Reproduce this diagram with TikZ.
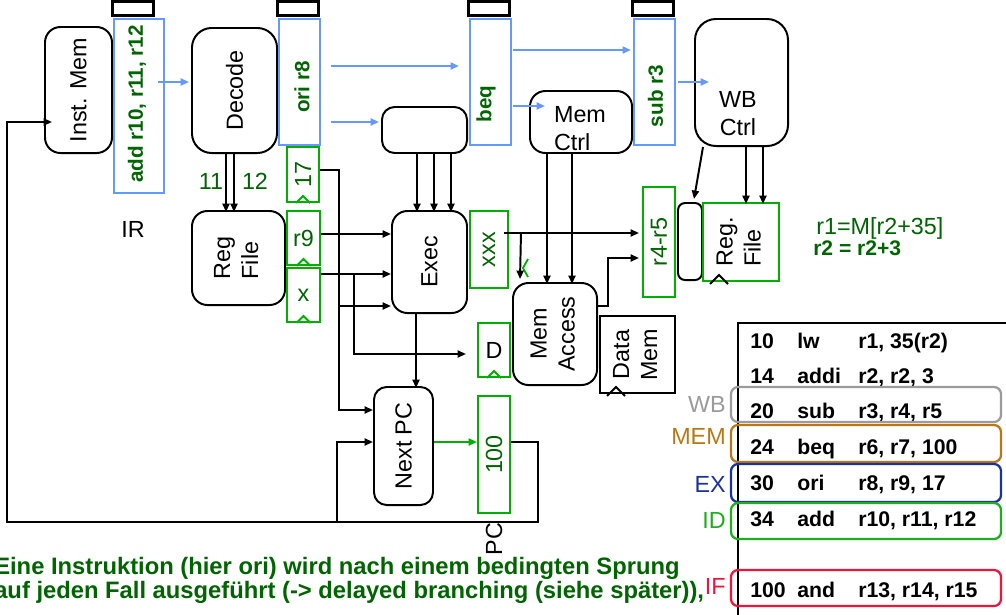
\documentclass[tikz,border=0pt]{standalone}
\usepackage{fontspec}
\setmainfont{Liberation Sans}
\usepackage{graphicx}
\usetikzlibrary{calc,arrows.meta}

\definecolor{pipeblue}{RGB}{102,153,255}
\definecolor{reggreen}{RGB}{0,175,0}
\definecolor{txtgreen}{RGB}{0,100,0}
\definecolor{wbgray}{RGB}{155,155,155}
\definecolor{membrown}{RGB}{185,120,20}
\definecolor{exblue}{RGB}{25,50,160}
\definecolor{idgreen}{RGB}{30,175,30}
\definecolor{ifred}{RGB}{240,20,60}

\newcommand{\figfont}{\fontsize{16.6}{20}\selectfont}
\newcommand{\regfont}{\fontsize{14.7}{18}\selectfont\bfseries}
\newcommand{\tabfont}{\fontsize{15.1}{18}\selectfont\bfseries}
\newcommand{\notefont}{\fontsize{16.9}{17}\selectfont\bfseries}
\newcommand{\vtxt}[1]{\rotatebox{90}{#1}}
\newcommand{\vtwo}[2][c]{\rotatebox{90}{\begin{tabular}{@{}#1@{}}#2\end{tabular}}}

\begin{document}
\begin{tikzpicture}[
    x=0.025cm, y=-0.025cm,
    blk/.style={draw=black, line width=1.4pt, rounded corners=11pt, fill=white, inner sep=0pt, font=\figfont},
    reg/.style={draw=reggreen, line width=1.4pt, fill=white, inner sep=0pt, font=\figfont, text=txtgreen},
    pipe/.style={draw=pipeblue, line width=1.5pt, inner sep=0pt},
    pipetxt/.style={font=\regfont, text=txtgreen, inner sep=0pt},
    latch/.style={draw=black, line width=2.2pt, fill=white},
    wire/.style={line width=1.4pt, draw=black, -{Triangle[length=6pt,width=5pt]}},
    bluewire/.style={line width=1.4pt, draw=pipeblue, -{Triangle[length=6pt,width=5pt]}},
    greenwire/.style={line width=1.4pt, draw=reggreen, -{Triangle[length=6pt,width=5pt]}},
    clk/.style={line width=1.3pt},
    lbl/.style={font=\figfont, inner sep=0pt},
    rowtxt/.style={font=\tabfont, anchor=base west, inner sep=0pt},
    stagebox/.style={line width=1.6pt, rounded corners=5pt}
]
    \useasboundingbox (0,0) rectangle (1006,614);

    % Fetch and decode
    \node[blk, minimum width=1.675cm, minimum height=3.15cm] (imem) at (78.5,90) {\vtxt{Inst. Mem}};
    \node[pipe, minimum width=1.25cm, minimum height=4.35cm] (ir) at (139,106) {};
    \node[blk, rounded corners=14pt, minimum width=2.125cm, minimum height=3.125cm] (decode) at (234.5,90.5) {\vtxt{Decode}\hspace{11.4pt}};
    \node[pipe, minimum width=1.025cm, minimum height=3.15cm] (idex) at (299.5,82) {};
    \node[reg, minimum width=0.8cm, minimum height=1.375cm] (r17) at (303,174.5) {\vtxt{17}};
    \node[blk, minimum width=2.325cm, minimum height=2.35cm] (regfile) at (238.5,258) {\vtwo[l]{Reg\\File}\hspace{9.5pt}};
    \node[reg, minimum width=0.825cm, minimum height=1.35cm] (r9) at (303.5,238) {r9};
    \node[reg, minimum width=0.825cm, minimum height=1.35cm] (rx) at (303.5,295) {x};

    % Execute
    \node[blk, rounded corners=9pt, minimum width=2.125cm, minimum height=1.15cm] (exctrl) at (424.5,130) {};
    \node[blk, minimum width=1.875cm, minimum height=2.55cm] (exec) at (429.5,262) {\vtxt{Exec}};
    \node[pipe, minimum width=1.025cm, minimum height=3.15cm] (exmem) at (490.5,82) {};
    \node[reg, minimum width=0.95cm, minimum height=1.925cm] (rxxx) at (489,249.5) {\vtxt{xxx}};
    \node[reg, text=black, minimum width=0.8cm, minimum height=1.35cm] (rd) at (494,350) {D};
    \node[blk, rounded corners=9pt, minimum width=1.475cm, minimum height=2.95cm] (nextpc) at (403.5,446) {\vtxt{Next PC}};
    \node[reg, minimum width=0.8cm, minimum height=2.925cm] (rpc) at (494,454.5) {\vtxt{100}};

    % Memory
    \node[blk, minimum width=2.55cm, minimum height=1.55cm] (memctrl) at (581,122) {};
    \node[blk, minimum width=2.1cm, minimum height=2.55cm] (memacc) at (555,334) {\vtwo{Mem\\Access}};
    \node[draw=black, line width=1.4pt, fill=white, inner sep=0pt, font=\figfont, minimum width=1.875cm, minimum height=1.925cm] (datamem) at (637.5,354.5) {\vtwo{Data\\Mem}};
    \node[reg, minimum width=0.8cm, minimum height=2.75cm] (rr45) at (659,242) {\vtxt{r4-r5}};
    \node[pipe, minimum width=1.025cm, minimum height=3.15cm] (memwb) at (654.5,82) {};

    % Write back
    \node[blk, rounded corners=15pt, minimum width=2.325cm, minimum height=3.175cm] (wbctrl) at (741.5,82.5) {};
    \node[blk, rounded corners=5pt, minimum width=0.6cm, minimum height=1.925cm] (wbmux) at (690,241.5) {};
    \node[reg, text=black, minimum width=1.9cm, minimum height=1.95cm] (rwb) at (741,242) {\vtwo[l]{Reg.\\File}};

    % Texts in the pipeline registers and control boxes
    \node[pipetxt] (irtxt) at ($(ir.center)+(-2,-2)$) {\vtxt{add r10, r11, r12}};
    \node[pipetxt] (idextxt) at ($(idex.center)+(2.5,5)$) {\vtxt{ori r8}};
    \node[pipetxt] (exmemtxt) at ($(exmem.center)+(-4.5,22)$) {\vtxt{beq}};
    \node[pipetxt] (memwbtxt) at ($(memwb.center)+(1,14)$) {\vtxt{sub r3}};
    \node[lbl, align=left] (memctrltxt) at ($(memctrl.center)+(-1,7)$) {Mem\\Ctrl};
    \node[lbl, align=center] (wbctrltxt) at ($(wbctrl.center)+(-3.5,31.5)$) {WB\\Ctrl};

    % Latches on top of the pipeline registers
    \foreach \r in {ir,idex,exmem,memwb}
        \draw[latch] ($(\r.north west)+(0,-2)$) rectangle ++(41,-14);

    % Clock marks
    \foreach \r in {r17,r9,rx,rd}
        \draw[clk, draw=reggreen] ($(\r.south)+(-7,0)$) -- ++(7,-7) -- ++(7,7);
    \draw[clk] ($(rwb.south west)+(8,2)$) -- ++(9,-9) -- ++(9,9);
    \draw[clk] ($(datamem.south west)+(8,2)$) -- ++(9,-9) -- ++(9,9);
    \draw[clk, draw=reggreen] (528,259) -- (523,268) -- (528,277);

    % Labels
    \node[lbl] (irlbl) at ($(ir.south)+(-6,35)$) {IR};
    \node[lbl, text=txtgreen] (lb11) at ($(decode.south)+(-23.5,27)$) {11};
    \node[lbl, text=txtgreen] (lb12) at ($(decode.south)+(20.5,27)$) {12};
    \node[lbl] (pclbl) at ($(rpc.south)+(0,25)$) {\vtxt{PC}};
    \node[lbl, anchor=base west, text=txtgreen] (eqa) at ($(rwb.east)+(36,-8)$) {r1=M[r2+35]};
    \node[font=\fontsize{15}{18}\selectfont\bfseries, anchor=base west, inner sep=0pt, text=txtgreen] (eqb) at ($(rwb.east)+(33,13)$) {r2 = r2+3};

    % Control flow (blue)
    \draw[bluewire] ($(ir.east)+(-7,-24)$) -- ($(decode.west)+(-2,-8.5)$);
    \draw[bluewire] ($(idex.east)+(10,-16)$) -- ($(exmem.west)+(-10,-16)$);
    \draw[bluewire] ($(idex.east)+(10,40)$) -- ($(exctrl.west)+(-2,-8)$);
    \draw[bluewire] ($(exmem.east)+(1,-32)$) -- ($(memwb.west)+(-2,-32)$);
    \draw[bluewire] ($(exmem.east)+(1,24)$) -- ($(memctrl.west)+(16,-16)$);
    \draw[bluewire] ($(memwb.east)+(2,0)$) -- ($(wbctrl.west)+(15,-0.5)$);

    % Control lines down into the units
    \foreach \dx in {-8.5,-0.5}
        \draw[wire] (decode.south) ++(\dx,0) -- ++(0,58);
    \foreach \dx in {-7.5,9.5,26.5}
        \draw[wire] (exctrl.south) ++(\dx,0) -- ++(0,58);
    \foreach \dx in {-34,-9}
        \draw[wire] (memctrl.south) ++(\dx,0) -- ++(0,130);
    \draw[wire] (wbctrl.south) ++(-38.5,0) -- ($(wbmux.north)+(4,-3)$);
    \foreach \dx in {4.5,21.5}
        \draw[wire] (wbctrl.south) ++(\dx,0) -- ++(0,57);

    % Operands into Exec
    \coordinate (exin1) at ($(exec.west)+(0,-28)$);
    \coordinate (exin2) at ($(exec.west)+(0,12)$);
    \coordinate (exin3) at ($(exec.west)+(0,44)$);
    \draw[wire] (r9.east |- exin1) -- (exin1);
    \draw[wire] (rx.east |- exin2) -- (exin2);
    \coordinate (immbus) at ($(r17.east)+(19,-4.5)$);
    \draw[wire] ($(r17.east)+(0,-4.5)$) -- (immbus) |- ($(nextpc.west)+(0,-36)$);
    \draw[wire] (immbus |- exin3) -- (exin3);
    \coordinate (xbus) at ($(exin2)+(-37,0)$);
    \draw[wire] (xbus) |- ($(rd.west)+(-11,4)$);

    % Results
    \draw[wire] (exec.south) ++(-13.5,0) -- ++(0,74);
    \draw[wire] ($(rxxx.east)+(-5,-16.5)$) -- ($(rr45.west)+(-3,-9)$);
    \draw[wire] ($(rxxx.east)+(12,-16.5)$) -- ($(memacc.north)+(-35,-3)$);
    \draw[wire] ($(memacc.east)+(0,-28)$) -- ++(10,0) |- ($(rr45.west)+(-3,16)$);

    % PC loop
    \draw[greenwire] ($(nextpc.east)+(0,-4)$) -- ($(rpc.west)+(0,-12.5)$);
    \coordinate (pcfb) at ($(nextpc.west)+(-36,76)$);
    \draw[wire] ($(rpc.east)+(0,-12.5)$) -- ++(27,0) |- (pcfb) -- ++(-330,0) |- ($(imem.west)+(8,32)$);
    \draw[wire] (pcfb) |- ($(nextpc.west)+(0,-4)$);

    % Program listing
    \draw[line width=1.8pt] (1010,323) -| (738,618);
    \foreach \y/\n/\o/\a [count=\i] in {341/10/lw/{r1, 35(r2)}, 376/14/addi/{r2, r2, 3}, 411/20/sub/{r3, r4, r5}, 447/24/beq/{r6, r7, 100}, 483/30/ori/{r8, r9, 17}, 519/34/add/{r10, r11, r12}, 590/100/and/{r13, r14, r15}} {
        \node[rowtxt] (num\i) at (750,\y+7.5) {\n};
        \node[rowtxt] (op\i) at (797,\y+7.5) {\o};
        \node[rowtxt] (arg\i) at (858,\y+7.5) {\a};
    }
    \foreach \ya/\yb/\c/\t/\yl in {387/422/wbgray/WB/404, 425/462/membrown/MEM/436, 464/502/exblue/EX/484.5, 503/539/idgreen/ID/520, 570/606/ifred/IF/586} {
        \draw[stagebox, draw=\c] (731,\ya) rectangle (1001,\yb);
        \node[lbl, anchor=base east, text=\c] (st\t) at (726,\yl+8.3) {\t};
    }

    % Note
    \node[font=\notefont, text=txtgreen, align=left, anchor=north west, inner sep=0pt] (note) at (-6,557)
        {Eine Instruktion (hier ori) wird nach einem bedingten Sprung\\auf jeden Fall ausgeführt (-> delayed branching (siehe später)),};

\end{tikzpicture}
\end{document}
